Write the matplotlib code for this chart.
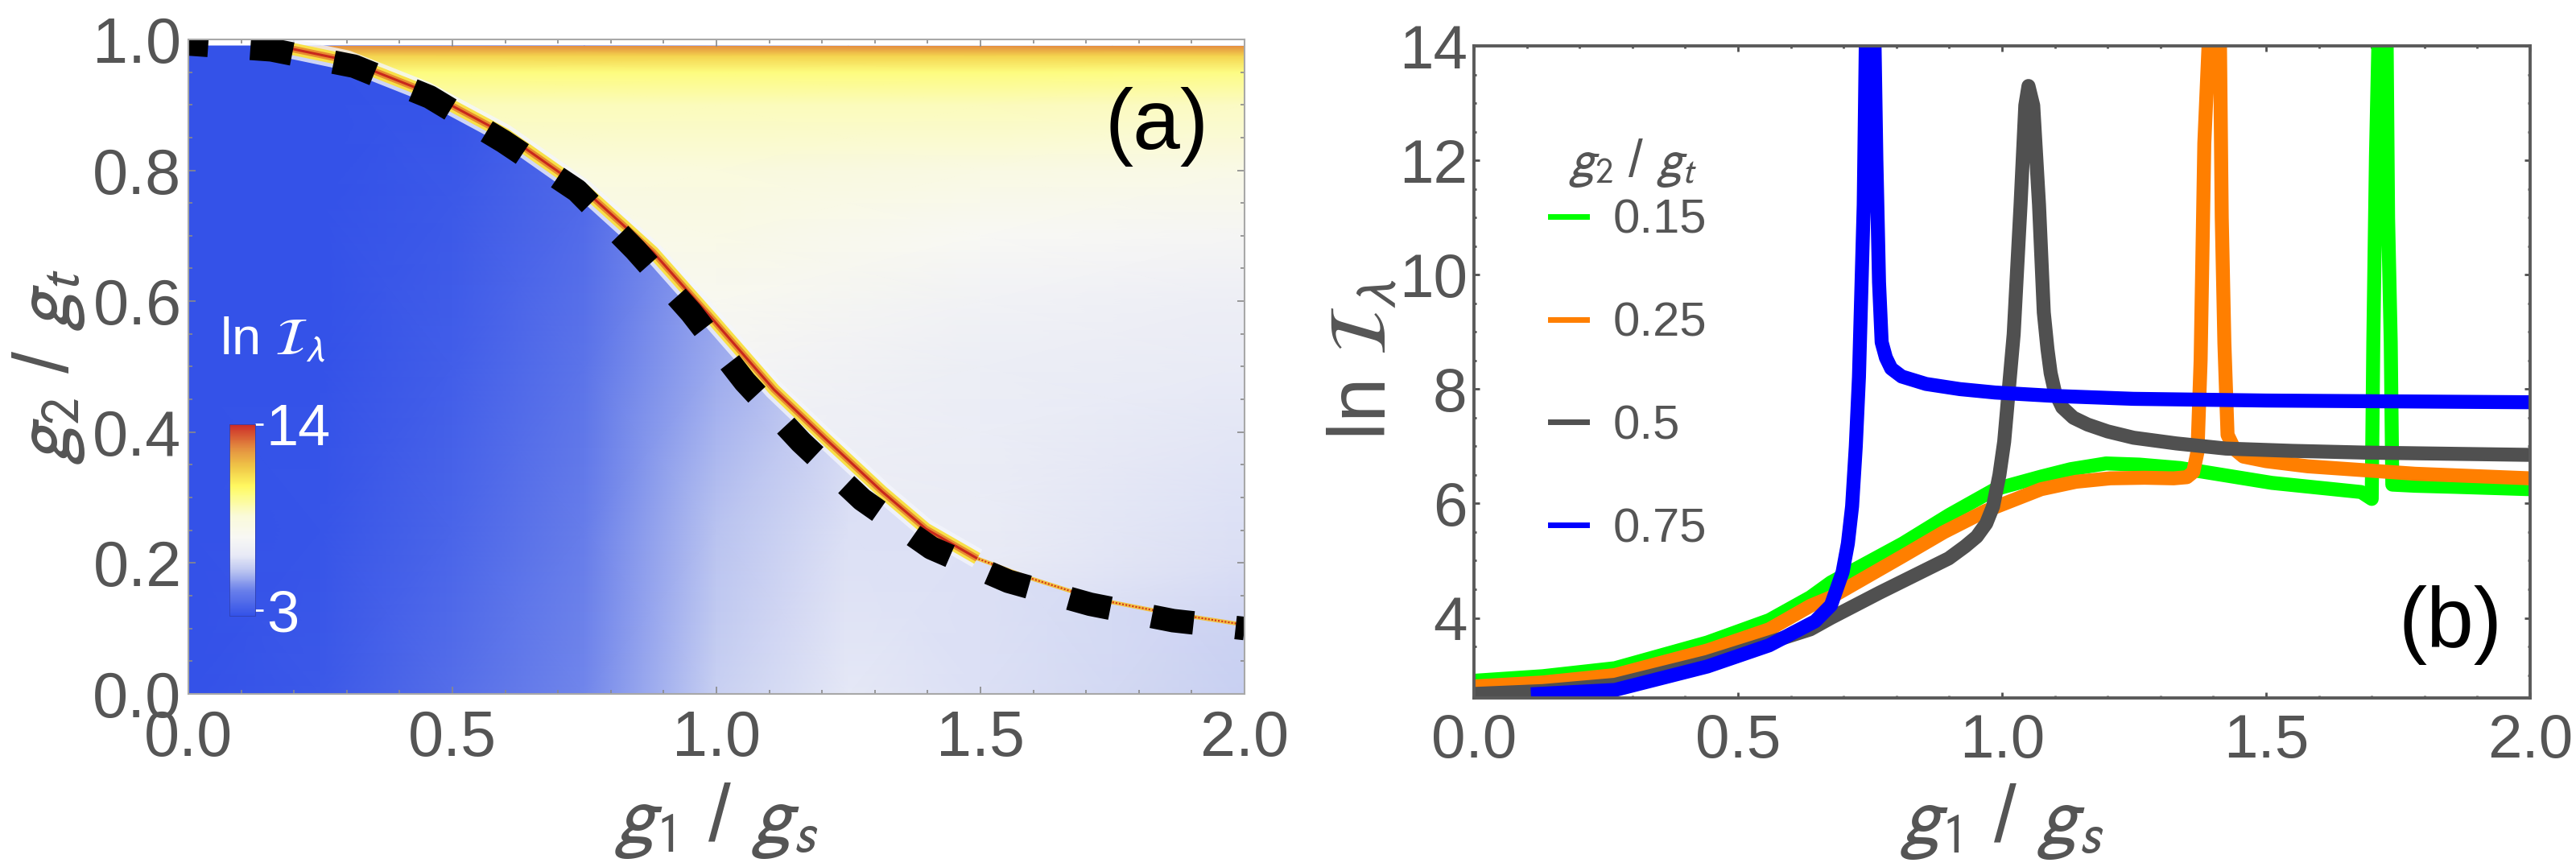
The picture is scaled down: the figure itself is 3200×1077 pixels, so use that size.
import numpy as np
import matplotlib
matplotlib.use('Agg')
import matplotlib.pyplot as plt
from matplotlib.colors import LinearSegmentedColormap, Normalize
from matplotlib.patches import Polygon
from matplotlib.lines import Line2D
from matplotlib.ticker import MultipleLocator, FormatStrFormatter

plt.rcParams['font.family'] = ['Liberation Sans', 'DejaVu Sans']
plt.rcParams['mathtext.fontset'] = 'stixsans'

# ---- panel (a) data ----
# dashed analytic boundary
bound_x = [0.0, 0.157, 0.314, 0.457, 0.597, 0.736, 0.846, 0.952, 1.054, 1.160, 1.276, 1.407, 1.553, 1.708, 1.865, 2.0]
bound_y = [0.993, 0.984, 0.959, 0.912, 0.844, 0.769, 0.679, 0.583, 0.477, 0.385, 0.297, 0.223, 0.172, 0.137, 0.112, 0.100]
# ridge (maximum of ln I) seen in the density plot
ridge_x = [0.17, 0.30, 0.45, 0.60, 0.75, 0.88, 0.99, 1.109, 1.205, 1.314, 1.397, 1.494, 1.590, 1.718, 1.846, 1.981, 2.0]
ridge_y = [0.99, 0.968, 0.92, 0.855, 0.77, 0.675, 0.575, 0.465, 0.391, 0.309, 0.252, 0.207, 0.178, 0.145, 0.125, 0.108, 0.106]

# ln I below the ridge (rows = g2/gt, cols = g1/gs)
lo_x = [0, 0.25, 0.5, 0.75, 1.0, 1.25, 1.5, 1.75, 2.0]
lo_y = [0, 0.25, 0.5, 0.75, 0.99]
lo_val = [
    [2.6, 2.9, 3.6, 4.3, 5.6, 6.2, 6.0, 5.85, 5.6],
    [2.6, 2.8, 3.3, 4.1, 5.3, 6.0, 6.0, 5.9, 5.8],
    [2.6, 2.7, 3.1, 3.8, 4.9, 5.8, 5.9, 5.9, 5.9],
    [2.6, 2.65, 2.9, 3.5, 4.6, 5.6, 5.8, 5.9, 5.9],
    [2.6, 2.6, 2.7, 3.2, 4.3, 5.4, 5.7, 5.8, 5.8],
]
# ln I above the ridge
up_x = [0, 0.5, 1.0, 1.5, 2.0]
up_y = [0, 0.1, 0.2, 0.3, 0.4, 0.5, 0.6, 0.7, 0.8, 0.9, 0.95, 0.975, 0.99]
up_val = [
    [6.0, 6.0, 6.0, 5.9, 5.6],
    [6.1, 6.1, 6.1, 6.1, 5.75],
    [6.2, 6.2, 6.3, 6.3, 5.95],
    [6.3, 6.3, 6.6, 6.4, 6.05],
    [6.5, 6.5, 6.8, 6.45, 6.15],
    [6.8, 6.8, 7.1, 6.55, 6.3],
    [7.2, 7.2, 7.5, 6.9, 6.6],
    [7.7, 7.7, 7.9, 7.35, 7.1],
    [8.3, 8.3, 8.4, 8.1, 7.9],
    [9.0, 9.0, 9.0, 9.0, 8.9],
    [9.9, 9.9, 9.9, 9.9, 9.8],
    [11.2, 11.2, 11.2, 11.2, 11.2],
    [12.6, 12.6, 12.6, 12.6, 12.6],
]
cbar_min, cbar_max = 2.67, 14
cbar_ticks = [3, 14]

# ---- panel (b) data: ln I vs g1/gs ----
x_015 = [0, 0.13, 0.267, 0.442, 0.559, 0.637, 0.676, 0.812, 0.9, 0.987, 1.074, 1.13, 1.197, 1.26, 1.337,
         1.511, 1.68, 1.700, 1.703, 1.708, 1.716, 1.727, 1.731, 1.736, 1.739, 1.782, 1.861, 2.0]
y_015 = [2.90, 2.98, 3.12, 3.57, 3.96, 4.36, 4.62, 5.30, 5.8, 6.25, 6.47, 6.6, 6.70, 6.68, 6.62,
         6.36, 6.2, 6.08, 8.82, 12.07, 15.5, 15.5, 10.99, 8.82, 6.33, 6.31, 6.29, 6.25]
x_025 = [0, 0.13, 0.267, 0.442, 0.559, 0.637, 0.676, 0.812, 0.89, 0.969, 1.074, 1.14, 1.205, 1.27, 1.325,
         1.35, 1.362, 1.370, 1.376, 1.383, 1.398, 1.411, 1.416, 1.421, 1.427, 1.44, 1.457, 1.5, 1.579,
         1.782, 2.0]
y_025 = [2.80, 2.87, 3.0, 3.43, 3.80, 4.21, 4.36, 5.08, 5.5, 5.87, 6.25, 6.38, 6.44, 6.45, 6.44,
         6.46, 6.55, 6.9, 8.5, 12.3, 15.5, 15.5, 11.0, 8.8, 7.2, 6.95, 6.82, 6.74, 6.65,
         6.52, 6.44]
x_05 = [0, 0.13, 0.267, 0.442, 0.559, 0.637, 0.676, 0.768, 0.899, 0.93, 0.952, 0.97, 0.983, 0.995, 1.004,
        1.022, 1.035, 1.044, 1.05, 1.059, 1.070, 1.079, 1.086, 1.092, 1.10, 1.114, 1.135, 1.162, 1.2,
        1.249, 1.33, 1.424, 1.55, 1.686, 2.0]
y_05 = [2.67, 2.72, 2.83, 3.23, 3.57, 3.80, 4.0, 4.44, 5.04, 5.25, 5.42, 5.65, 5.95, 6.5, 7.08,
        8.96, 11.22, 12.96, 13.3, 12.96, 11.22, 9.34, 8.7, 8.28, 7.95, 7.68, 7.5, 7.38, 7.26,
        7.15, 7.05, 6.96, 6.92, 6.89, 6.85]
x_075 = [0.121, 0.267, 0.442, 0.559, 0.646, 0.676, 0.698, 0.708, 0.716, 0.723, 0.729, 0.738, 0.744,
         0.756, 0.762, 0.767, 0.772, 0.78, 0.79, 0.81, 0.856, 0.92, 0.987, 1.1, 1.249, 1.5, 2.0]
y_075 = [2.67, 2.74, 3.15, 3.52, 3.94, 4.22, 4.8, 5.3, 5.95, 7.0, 8.21, 11.22, 15.5,
         15.5, 12.0, 9.87, 8.82, 8.55, 8.36, 8.22, 8.09, 8.0, 7.94, 7.88, 7.83, 7.8, 7.77]
labels_b = ['0.15', '0.25', '0.5', '0.75']
colors_b = ['#00ff00', '#ff7f00', '#505050', '#0000ff']

GRAY = '#555555'

fig = plt.figure(figsize=(32, 10.77), dpi=100)
ax1 = fig.add_axes([0.0731, 0.1996, 0.41, 0.755])
ax2 = fig.add_axes([0.5722, 0.195, 0.41, 0.752])

# colormap
cmap = LinearSegmentedColormap.from_list('mma', [
    (0.0, '#3452e8'), (0.133, '#6a80ea'), (0.23, '#b8c2f0'), (0.315, '#e8eaf6'),
    (0.413, '#f8f8f4'), (0.524, '#fafad8'), (0.636, '#fdfc80'), (0.678, '#fff860'),
    (0.776, '#f0c848'), (0.874, '#e49040'), (1.0, '#cc2a28')])
norm = Normalize(vmin=cbar_min, vmax=cbar_max)

LX, LY = np.meshgrid(lo_x, lo_y)
mesh = ax1.pcolormesh(LX, LY, np.array(lo_val), shading='gouraud', cmap=cmap, norm=norm, zorder=1)
UX, UY = np.meshgrid(up_x, up_y)
mesh_up = ax1.pcolormesh(UX, UY, np.array(up_val), shading='gouraud', cmap=cmap, norm=norm, zorder=1.1)
clip = Polygon(list(zip(ridge_x, ridge_y)) + [(up_x[-1], up_y[-1]), (ridge_x[0], up_y[-1])],
               closed=True, transform=ax1.transData, fc='none', ec='none')
mesh_up.set_clip_path(clip)

# ridge: halo + yellow/orange/red core
n_up = 12
ax1.plot(ridge_x[:n_up], ridge_y[:n_up], color='#f4f6fc', lw=18, alpha=0.8, solid_capstyle='butt', zorder=2)
ax1.plot(ridge_x[:n_up], ridge_y[:n_up], color='#f8e048', lw=11, solid_capstyle='butt', zorder=2.1)
ax1.plot(ridge_x[:n_up], ridge_y[:n_up], color='#e88c30', lw=6, solid_capstyle='butt', zorder=2.2)
ax1.plot(ridge_x[:n_up], ridge_y[:n_up], color='#c8281c', lw=2.2, solid_capstyle='butt', zorder=2.3)
ax1.plot(ridge_x[n_up - 2:], ridge_y[n_up - 2:], color='#f2c040', lw=3.5, zorder=2.1)
ax1.plot(ridge_x[n_up - 2:], ridge_y[n_up - 2:], color='#d0301c', lw=1.5, ls=(0, (1, 1)), zorder=2.2)

ax1.plot(bound_x, bound_y, color='black', lw=21, ls=(0.95, (1.8, 1.8)),
         dash_capstyle='butt', zorder=3)

ax1.set_xlim(0, 2)
ax1.set_ylim(0, 1)
ax1.xaxis.set_major_locator(MultipleLocator(0.5))
ax1.xaxis.set_minor_locator(MultipleLocator(0.1))
ax1.yaxis.set_major_locator(MultipleLocator(0.2))
ax1.yaxis.set_minor_locator(MultipleLocator(0.05))
ax1.xaxis.set_major_formatter(FormatStrFormatter('%.1f'))
ax1.yaxis.set_major_formatter(FormatStrFormatter('%.1f'))
ax1.tick_params(which='both', direction='in', top=True, right=True, color='#8a8a8a',
                labelcolor=GRAY, labelsize=57, width=1.2)
ax1.tick_params(which='major', length=6.5)
ax1.tick_params(which='minor', length=3.6)
ax1.tick_params(axis='x', pad=14)
ax1.tick_params(axis='y', pad=6)
for s in ax1.spines.values():
    s.set_color('#a8a8a8')
    s.set_linewidth(1.5)
    s.set_zorder(4)
ax1.set_xlabel(r'$g_1$ / $g_s$', fontsize=72, color=GRAY, va='center')
ax1.xaxis.set_label_coords(0.5, -0.194)
ax1.set_ylabel(r'$g_2$ / $g_t$', fontsize=70, color=GRAY, va='center')
ax1.yaxis.set_label_coords(-0.132, 0.5)
ax1.text(0.917, 0.867, '(a)', transform=ax1.transAxes, ha='center', va='center',
         fontsize=76, color='black', zorder=5)

# inset colour bar
cax = ax1.inset_axes([0.039, 0.119, 0.0244, 0.293])
cb = fig.colorbar(mesh, cax=cax, ticks=cbar_ticks)
cb.outline.set_edgecolor('#3040b0')
cb.outline.set_linewidth(0.6)
cb.ax.tick_params(colors='white', labelcolor='white', labelsize=52, length=7, width=2, pad=3)
cb.ax.set_yticklabels([str(t) for t in cbar_ticks])
ax1.text(0.080, 0.54, r'ln $\mathcal{I}_\lambda$', transform=ax1.transAxes, ha='center',
         va='center', fontsize=47, color='white', zorder=5)

# ---- panel (b) ----
for xs, ys, c in zip([x_015, x_025, x_05, x_075], [y_015, y_025, y_05, y_075], colors_b):
    ax2.plot(xs, ys, color=c, lw=12.5)

ax2.set_xlim(0, 2)
ax2.set_ylim(2.6, 14)
ax2.xaxis.set_major_locator(MultipleLocator(0.5))
ax2.xaxis.set_minor_locator(MultipleLocator(0.1))
ax2.set_yticks([4, 6, 8, 10, 12, 14])
ax2.yaxis.set_minor_locator(MultipleLocator(0.5))
ax2.xaxis.set_major_formatter(FormatStrFormatter('%.1f'))
ax2.tick_params(which='both', direction='in', top=True, right=True, color='#505050',
                labelcolor=GRAY, labelsize=55, width=2)
ax2.tick_params(which='major', length=5)
ax2.tick_params(which='minor', length=2.5)
ax2.tick_params(axis='x', pad=14)
ax2.tick_params(axis='y', pad=6)
for s in ax2.spines.values():
    s.set_color('#5a5a5a')
    s.set_linewidth(2.8)
ax2.set_xlabel(r'$g_1$ / $g_s$', fontsize=72, color=GRAY, va='center')
ax2.xaxis.set_label_coords(0.5, -0.189)
ax2.set_ylabel(r'ln $\mathcal{I}_\lambda$', fontsize=72, color=GRAY, va='center')
ax2.yaxis.set_label_coords(-0.104, 0.519)
ax2.text(0.9245, 0.112, '(b)', transform=ax2.transAxes, ha='center', va='center',
         fontsize=76, color='black')

handles = [Line2D([], [], color=c, lw=5) for c in colors_b]
leg = ax2.legend(handles, labels_b, loc='upper left',
                 bbox_to_anchor=(0.0724, 0.766), frameon=False, borderpad=0, borderaxespad=0,
                 handlelength=0.75, handletextpad=0.55, labelspacing=1.22,
                 fontsize=43, labelcolor=GRAY)
ax2.text(0.151, 0.82, r'$g_2$ / $g_t$', transform=ax2.transAxes, ha='center', va='center',
         fontsize=46, color=GRAY)

fig.savefig('out.png', dpi=100)
